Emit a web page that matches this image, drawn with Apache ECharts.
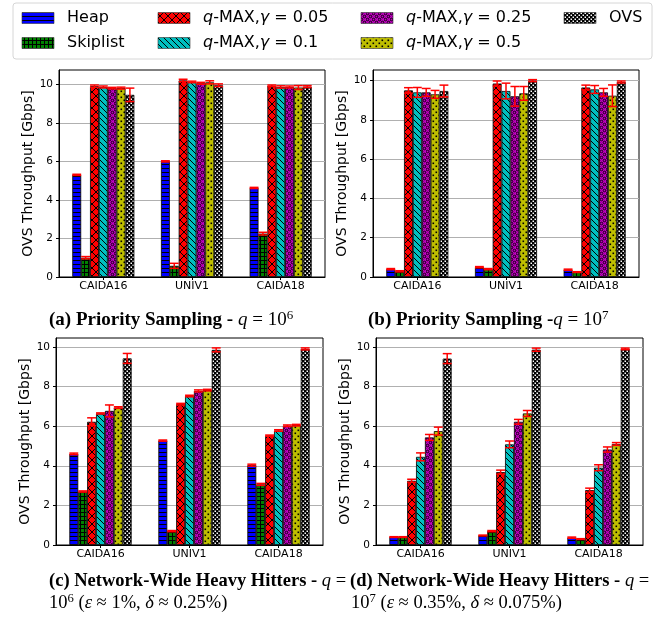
<!DOCTYPE html>
<html>
<head>
<meta charset="utf-8">
<script src="https://cdn.jsdelivr.net/npm/echarts@6/dist/echarts.min.js"></script>
<style>
  html, body { margin: 0; padding: 0; background: #fff; }
  #chart { width: 660px; height: 620px; }
</style>
</head>
<body>
<div id="chart"></div>
<script>
// Datasets on the x axis and the compared implementations
const categories = ['CAIDA16', 'UNIV1', 'CAIDA18'];
const seriesNames = ['Heap', 'Skiplist', 'q-MAX,γ = 0.05', 'q-MAX,γ = 0.1', 'q-MAX,γ = 0.25', 'q-MAX,γ = 0.5', 'OVS'];
const yTicks = [0, 2, 4, 6, 8, 10];

// Throughput [Gbps]: one row per implementation, one column per dataset
// (a) Priority Sampling, q = 10^6
const meanA = [
  [5.3, 6.0, 4.62],
  [1.0, 0.58, 2.25],
  [9.9, 10.2, 9.92],
  [9.86, 10.12, 9.86],
  [9.8, 10.05, 9.86],
  [9.8, 10.1, 9.83],
  [9.45, 9.95, 9.88]
];
const errA = [
  [0.03, 0.03, 0.03],
  [0.06, 0.13, 0.07],
  [0.06, 0.06, 0.04],
  [0.05, 0.04, 0.06],
  [0.04, 0.05, 0.05],
  [0.05, 0.08, 0.1],
  [0.35, 0.07, 0.05]
];

// (b) Priority Sampling, q = 10^7
const meanB = [
  [0.4, 0.5, 0.37],
  [0.29, 0.4, 0.25],
  [9.5, 9.85, 9.65],
  [9.4, 9.47, 9.55],
  [9.4, 9.2, 9.4],
  [9.3, 9.35, 9.23],
  [9.47, 10.0, 9.93]
];
const errB = [
  [0.03, 0.03, 0.03],
  [0.03, 0.03, 0.02],
  [0.14, 0.13, 0.12],
  [0.25, 0.4, 0.2],
  [0.2, 0.5, 0.2],
  [0.2, 0.35, 0.55],
  [0.3, 0.05, 0.05]
];

// (c) Network-Wide Heavy Hitters, q = 10^6
const meanC = [
  [4.6, 5.27, 4.03],
  [2.7, 0.7, 3.06],
  [6.22, 7.11, 5.52],
  [6.64, 7.52, 5.78],
  [6.77, 7.78, 6.02],
  [6.94, 7.82, 6.05],
  [9.42, 9.85, 9.9]
];
const errC = [
  [0.04, 0.03, 0.05],
  [0.03, 0.03, 0.05],
  [0.2, 0.04, 0.03],
  [0.03, 0.04, 0.04],
  [0.3, 0.05, 0.04],
  [0.04, 0.04, 0.04],
  [0.25, 0.1, 0.05]
];

// (d) Network-Wide Heavy Hitters, q = 10^7
const meanD = [
  [0.4, 0.48, 0.37],
  [0.4, 0.7, 0.3],
  [3.24, 3.68, 2.77],
  [4.45, 5.08, 3.9],
  [5.43, 6.22, 4.82],
  [5.75, 6.64, 5.1],
  [9.41, 9.86, 9.9]
];
const errD = [
  [0.02, 0.02, 0.03],
  [0.02, 0.03, 0.02],
  [0.08, 0.1, 0.1],
  [0.2, 0.17, 0.15],
  [0.15, 0.12, 0.13],
  [0.2, 0.15, 0.07],
  [0.25, 0.08, 0.04]
];

// ---------- hatch fills ----------
function tile(w, h, bg, draw) {
  const c = document.createElement('canvas');
  c.width = w; c.height = h;
  const g = c.getContext('2d');
  g.fillStyle = bg;
  g.fillRect(0, 0, w, h);
  draw(g, w, h);
  return { image: c, repeat: 'repeat' };
}
function seg(g, x1, y1, x2, y2) {
  g.beginPath(); g.moveTo(x1, y1); g.lineTo(x2, y2); g.stroke();
}
const hatches = [
  // horizontal lines
  tile(4, 4, '#0000ff', g => { g.fillStyle = '#000'; g.fillRect(0, 0, 4, 1); }),
  // grid
  tile(4, 4, '#008000', g => { g.fillStyle = '#000'; g.fillRect(0, 0, 4, 1); g.fillRect(0, 0, 1, 4); }),
  // cross-hatch
  tile(8, 8, '#ff0000', g => {
    g.strokeStyle = '#000'; g.lineWidth = 1;
    seg(g, -1, -1, 9, 9); seg(g, 9, -1, -1, 9);
  }),
  // back diagonals
  tile(6, 6, '#00bfbf', g => {
    g.strokeStyle = '#000'; g.lineWidth = 1;
    for (const c of [-6, 0, 6]) seg(g, -1, -1 + c, 7, 7 + c);
  }),
  // small rings
  tile(6, 6, '#bf00bf', g => {
    g.strokeStyle = '#000'; g.lineWidth = 0.9;
    for (const [x, y] of [[1.5, 1.5], [4.5, 4.5], [-1.5, 4.5], [7.5, 4.5], [4.5, -1.5], [1.5, 7.5]]) {
      g.beginPath(); g.arc(x, y, 1.3, 0, Math.PI * 2); g.stroke();
    }
  }),
  // dots
  tile(6, 6, '#bfbf00', g => { g.fillStyle = '#000'; g.fillRect(0.5, 0.5, 1.6, 1.6); g.fillRect(3.5, 3.5, 1.6, 1.6); }),
  // dense rings on white (reads as black with light holes)
  tile(4, 4, '#000000', g => { g.fillStyle = '#fff'; g.fillRect(0.5, 0.5, 1.5, 1.5); g.fillRect(2.5, 2.5, 1.5, 1.5); })
];

// ---------- layout of the four panels ----------
const panels = [
  { mean: meanA, err: errA, grid: { left: 59, top: 70, width: 266, height: 207 }, max: 10.74 },
  { mean: meanB, err: errB, grid: { left: 373, top: 70, width: 266, height: 207 }, max: 10.54 },
  { mean: meanC, err: errC, grid: { left: 56, top: 338, width: 267, height: 207 }, max: 10.45 },
  { mean: meanD, err: errD, grid: { left: 376, top: 338, width: 267, height: 207 }, max: 10.45 }
];
const CAT_GAP = 0.3;
const tickFont = 'DejaVu Sans';

const grid = [], xAxis = [], yAxis = [], series = [];
panels.forEach((p, pi) => {
  grid.push(Object.assign({ show: true, borderColor: '#000', borderWidth: 1, backgroundColor: 'transparent' }, p.grid));
  xAxis.push({
    type: 'category', gridIndex: pi, data: categories,
    axisLine: { show: true, lineStyle: { color: '#000', width: 1 } },
    axisTick: { show: true, alignWithLabel: true, length: 3, lineStyle: { color: '#000' } },
    axisLabel: { color: '#000', fontFamily: tickFont, fontSize: 11, margin: 4, interval: 0 },
    splitLine: { show: false }
  });
  yAxis.push({
    type: 'value', gridIndex: pi, min: 0, max: p.max,
    name: 'OVS Throughput [Gbps]', nameLocation: 'middle', nameGap: 17,
    nameTextStyle: { color: '#000', fontFamily: tickFont, fontSize: 14 },
    axisLine: { show: true, lineStyle: { color: '#000', width: 1 } },
    axisTick: { show: true, length: 3, customValues: yTicks, lineStyle: { color: '#000' } },
    axisLabel: { color: '#000', fontFamily: tickFont, fontSize: 10.5, margin: 6, customValues: yTicks },
    splitLine: { show: true, lineStyle: { color: '#b0b0b0', width: 1 } }
  });
  seriesNames.forEach((name, si) => {
    series.push({
      type: 'bar', name, xAxisIndex: pi, yAxisIndex: pi,
      data: p.mean[si],
      barGap: '0%', barCategoryGap: (CAT_GAP * 100) + '%',
      itemStyle: { color: hatches[si], borderColor: '#000', borderWidth: 0.8 },
      emphasis: { disabled: true },
      z: 2
    });
  });
  const errData = [];
  seriesNames.forEach((name, si) => {
    categories.forEach((c, ci) => errData.push([ci, p.mean[si][ci], p.err[si][ci], si]));
  });
  series.push({
    type: 'custom', xAxisIndex: pi, yAxisIndex: pi, z: 5,
    data: errData,
    encode: { x: 0, y: 1 },
    renderItem(params, api) {
      const cat = api.value(0), v = api.value(1), e = api.value(2), s = api.value(3);
      const band = api.size([1, 0])[0];
      const bw = band * (1 - CAT_GAP) / seriesNames.length;
      const cx = api.coord([cat, v])[0] + (s - (seriesNames.length - 1) / 2) * bw;
      const yHi = api.coord([cat, v + e])[1];
      const yLo = api.coord([cat, v - e])[1];
      const hw = bw * 0.5;
      const st = { stroke: '#ff0000', lineWidth: 1.5 };
      return {
        type: 'group', children: [
          { type: 'line', shape: { x1: cx, y1: yHi, x2: cx, y2: yLo }, style: st },
          { type: 'line', shape: { x1: cx - hw, y1: yHi, x2: cx + hw, y2: yHi }, style: st },
          { type: 'line', shape: { x1: cx - hw, y1: yLo, x2: cx + hw, y2: yLo }, style: st }
        ]
      };
    }
  });
});

// ---------- legend (4 columns x 2 rows) ----------
const legendCols = [22, 158, 361, 564];
const legendRows = [18, 43];
const legendFont = { fontFamily: 'DejaVu Sans', fontSize: 16 };
function legendLabel(name) {
  if (name.startsWith('q-MAX')) {
    const rest = name.slice(1).replace('γ', '');
    const parts = rest.split(',');
    return '{i|q}{r|' + parts[0] + ',}{i|γ}{r|' + parts[1] + '}';
  }
  return '{r|' + name + '}';
}
const graphic = [{
  type: 'rect', shape: { x: 13, y: 3, width: 639, height: 56, r: 3 },
  style: { fill: '#fff', stroke: '#d6d6d6', lineWidth: 1 }, z: -10
}];
seriesNames.forEach((name, k) => {
  const col = Math.floor(k / 2), row = k % 2;
  const x = legendCols[col], y = legendRows[row];
  graphic.push({
    type: 'rect', shape: { x: x, y: y - 5.5, width: 32, height: 11 },
    style: { fill: hatches[k], stroke: '#333', lineWidth: 0.6 }
  });
  graphic.push({
    type: 'text', x: x + 45, y: y,
    style: {
      text: legendLabel(name), verticalAlign: 'middle', align: 'left',
      rich: {
        r: Object.assign({ fill: '#000' }, legendFont),
        i: Object.assign({ fill: '#000', fontStyle: 'italic' }, legendFont)
      }
    }
  });
});

// ---------- panel captions ----------
const capSize = 19;
const capRich = {
  b: { fontFamily: 'Liberation Serif', fontWeight: 'bold', fontSize: capSize, fill: '#000', lineHeight: 22 },
  i: { fontFamily: 'Liberation Serif', fontStyle: 'italic', fontSize: capSize, fill: '#000', lineHeight: 22 },
  r: { fontFamily: 'Liberation Serif', fontSize: capSize, fill: '#000', lineHeight: 22 },
  s: { fontFamily: 'Liberation Serif', fontSize: 13, fill: '#000', verticalAlign: 'top', lineHeight: 13 }
};
const captions = [
  { x: 49, y: 320, sx: 1, text: '{b|(a) Priority Sampling - }{i|q}{r| = 10}{s|6}' },
  { x: 368, y: 320, sx: 1, text: '{b|(b) Priority Sampling -}{i|q}{r| = 10}{s|7}' },
  { x: 49, y: 581, sx: 0.975, text: '{b|(c) Network-Wide Heavy Hitters - }{i|q}{r| =}' },
  { x: 49, y: 603, sx: 0.975, text: '{r|10}{s|6}{r| (}{i|ε}{r| ≈ 1%, }{i|δ}{r| ≈ 0.25%)}' },
  { x: 350, y: 581, sx: 0.975, text: '{b|(d) Network-Wide Heavy Hitters - }{i|q}{r| =}' },
  { x: 351, y: 603, sx: 0.975, text: '{r|10}{s|7}{r| (}{i|ε}{r| ≈ 0.35%, }{i|δ}{r| ≈ 0.075%)}' }
];
captions.forEach(c => {
  graphic.push({
    type: 'text', x: c.x, y: c.y, scaleX: c.sx,
    style: { text: c.text, rich: capRich, verticalAlign: 'middle', align: 'left' }
  });
});

const chart = echarts.init(document.getElementById('chart'), null, { renderer: 'canvas' });
chart.setOption({
  animation: false,
  backgroundColor: '#fff',
  grid, xAxis, yAxis, series, graphic,
  tooltip: { show: false }
});
</script>
</body>
</html>
